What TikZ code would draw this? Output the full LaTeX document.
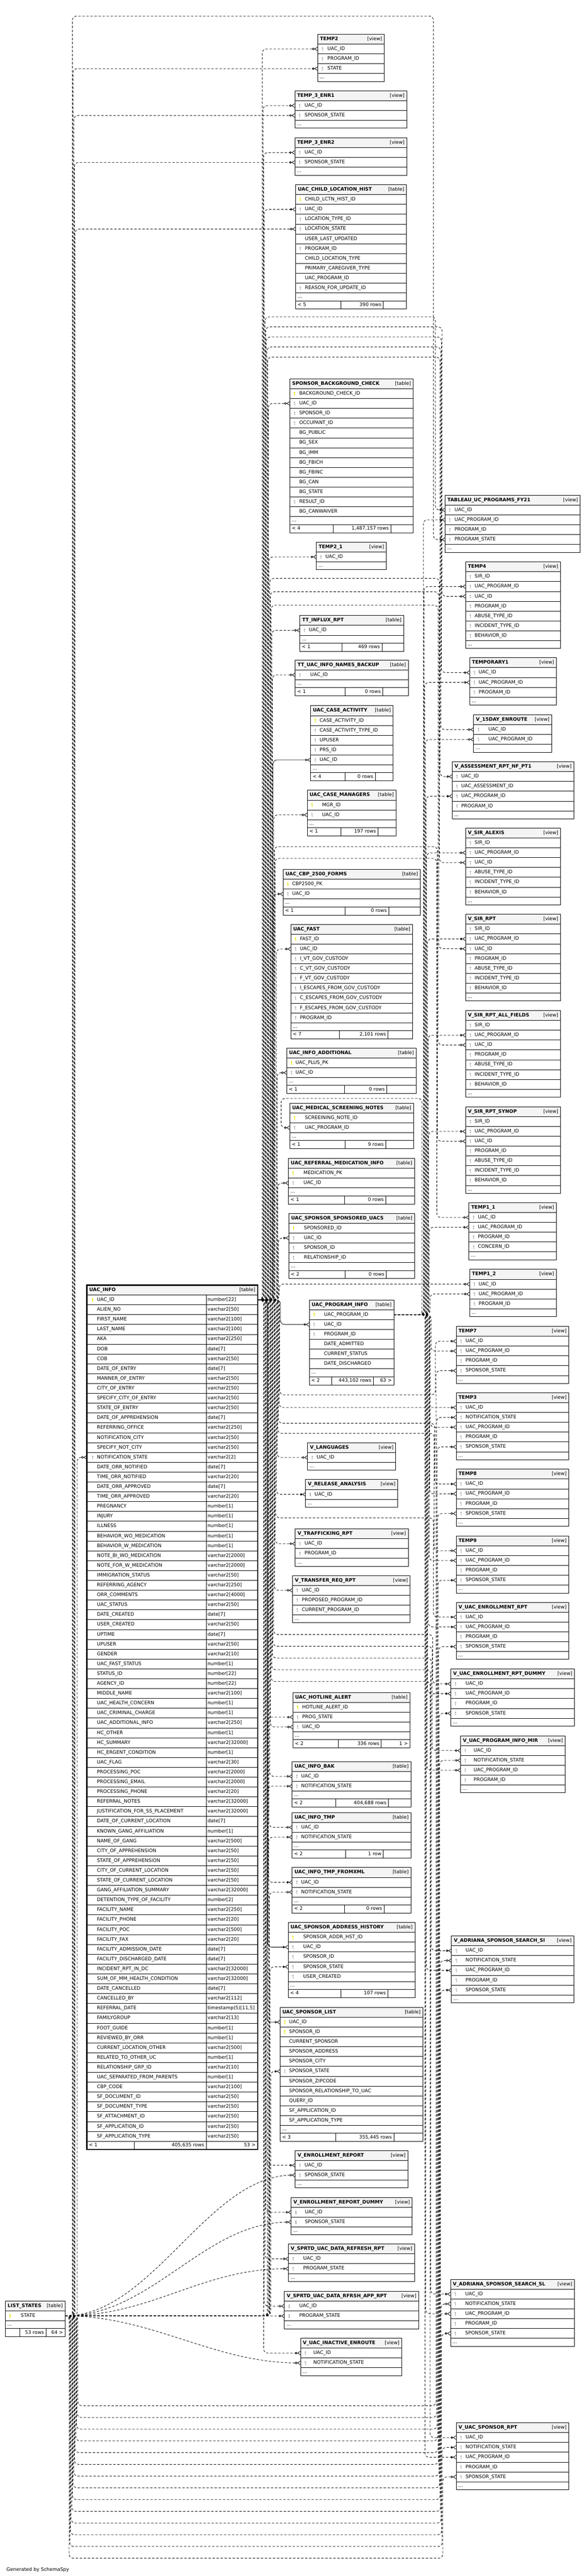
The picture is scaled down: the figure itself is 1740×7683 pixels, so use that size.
\documentclass[tikz,border=0pt]{standalone}
\usepackage{fontspec}
\setmainfont{DejaVu Sans}
\usetikzlibrary{arrows.meta,positioning,fit,calc}

\definecolor{pkcol}{RGB}{228,228,0}
\definecolor{fkcol}{RGB}{178,178,178}
\definecolor{hdrcol}{RGB}{244,244,244}

\pgfdeclarelayer{edges}
\pgfsetlayers{edges,main}

% one box: header, columns and the "..." row
\newcommand{\dbtable}[8]{%
  \pgfmathsetmacro{\dbW}{#5-#4}%
  \node[hdrbox, minimum width=\dbW pt] (#1) at (#4,#6)
    {\makebox[\dbW pt][l]{\hspace*{7pt}\textbf{#2}\hfill[#3]\hspace*{7pt}}};%
  \foreach \kk/\cn [count=\ii] in {#8} {%
    \pgfmathsetmacro{\yy}{#6+29.35*\ii}%
    \node[rowbox, minimum width=\dbW pt] (#1-\cn) at (#4,\yy)
      {\makebox[\dbW pt][l]{\hspace*{#7pt}\cn}};%
    \if p\kk \pic[fill=pkcol] at ([xshift=14pt]#1-\cn.west) {keyglyph};\fi
    \if f\kk \pic[fill=fkcol] at ([xshift=14pt]#1-\cn.west) {keyglyph};\fi
    \xdef\dbN{\ii}%
  }%
  \pgfmathsetmacro{\yy}{#6+29.35*(\dbN+1)}%
  \node[morebox, minimum width=\dbW pt] (#1-more) at (#4,\yy)
    {\makebox[\dbW pt][l]{\hspace*{6pt}...}};%
  \pgfmathsetmacro{\yy}{\yy+23.5}%
  \xdef\dbBot{\yy}\xdef\dbXL{#4}\xdef\dbXR{#5}\xdef\dbID{#1}%
}
% footer line under the last box: two dividers, three texts
\newcommand{\dbfoot}[5]{%
  \pgfmathsetmacro{\fa}{#1-\dbXL}%
  \pgfmathsetmacro{\fb}{#2-#1}%
  \pgfmathsetmacro{\fc}{\dbXR-#2}%
  \pgfmathsetmacro{\fw}{\dbXR-\dbXL}%
  \node[footbox, minimum width=\fw pt] (\dbID-foot) at (\dbXL,\dbBot)
    {\makebox[\fa pt][l]{\hspace*{6pt}#3}\makebox[\fb pt][r]{#4\hspace*{6pt}}\makebox[\fc pt][r]{#5\hspace*{6pt}}};%
  \draw[line width=1.5pt] (#1,\dbBot) -- ++(0,24.5);%
  \draw[line width=1.5pt] (#2,\dbBot) -- ++(0,24.5);%
}

\begin{document}
\catcode`\_=12
\begin{tikzpicture}[
  x=1pt, y=-1pt,
  font=\fontsize{14.3}{17}\selectfont,
  hdrbox/.style={draw, line width=1.5pt, fill=hdrcol, anchor=north west,
    minimum height=29.35pt, inner sep=0pt, outer sep=0pt,
    text height=10.5pt, text depth=3pt},
  rowbox/.style={hdrbox, fill=white},
  morebox/.style={rowbox, minimum height=23.5pt},
  footbox/.style={rowbox, minimum height=24.5pt},
  keyglyph/.pic={
    \fill[pic actions] (0,-3) circle[radius=2.6pt];
    \fill[pic actions] (-0.8,-1) rectangle (0.8,5.5);
    \fill[pic actions] (0.8,3.4) rectangle (2.3,4.6);
  },
  rel/.style={line width=1.3pt, dash pattern=on 7pt off 5pt, rounded corners=12pt,
    -{Circle[open,length=7pt,width=7pt] Straight Barb[reversed,length=8pt,width=11pt]}},
  relfk/.style={rel, solid},
]
\useasboundingbox (0,0) rectangle (1740,7683);

% --- UAC_INFO ---
\node[hdrbox, minimum width=509pt] (ui) at (259,3833)
  {\makebox[509pt][l]{\hspace*{7pt}\textbf{UAC_INFO}\hfill[table]\hspace*{7pt}}};
\foreach \cn/\ty [count=\ii] in {UAC_ID/number[22],ALIEN_NO/varchar2[50],FIRST_NAME/varchar2[100],
  LAST_NAME/varchar2[100],AKA/varchar2[250],DOB/date[7],COB/varchar2[50],DATE_OF_ENTRY/date[7],
  MANNER_OF_ENTRY/varchar2[50],CITY_OF_ENTRY/varchar2[50],SPECIFY_CITY_OF_ENTRY/varchar2[50],
  STATE_OF_ENTRY/varchar2[50],DATE_OF_APPREHENSION/date[7],REFERRING_OFFICE/varchar2[250],
  NOTIFICATION_CITY/varchar2[50],SPECIFY_NOT_CITY/varchar2[50],NOTIFICATION_STATE/varchar2[2],
  DATE_ORR_NOTIFIED/date[7],TIME_ORR_NOTIFIED/varchar2[20],DATE_ORR_APPROVED/date[7],
  TIME_ORR_APPROVED/varchar2[20],PREGNANCY/number[1],INJURY/number[1],ILLNESS/number[1],
  BEHAVIOR_WO_MEDICATION/number[1],BEHAVIOR_W_MEDICATION/number[1],NOTE_BI_WO_MEDICATION/varchar2[2000],
  NOTE_FOR_W_MEDICATION/varchar2[2000],IMMIGRATION_STATUS/varchar2[50],REFERRING_AGENCY/varchar2[250],
  ORR_COMMENTS/varchar2[4000],UAC_STATUS/varchar2[50],DATE_CREATED/date[7],USER_CREATED/varchar2[50],
  UPTIME/date[7],UPUSER/varchar2[50],GENDER/varchar2[10],UAC_FAST_STATUS/number[1],STATUS_ID/number[22],
  AGENCY_ID/number[22],MIDDLE_NAME/varchar2[100],UAC_HEALTH_CONCERN/number[1],UAC_CRIMINAL_CHARGE/number[1],
  UAC_ADDITIONAL_INFO/varchar2[250],HC_OTHER/number[1],HC_SUMMARY/varchar2[32000],HC_ERGENT_CONDITION/number[1],
  UAC_FLAG/varchar2[30],PROCESSING_POC/varchar2[2000],PROCESSING_EMAIL/varchar2[2000],PROCESSING_PHONE/varchar2[20],
  REFERRAL_NOTES/varchar2[32000],JUSTIFICATION_FOR_SS_PLACEMENT/varchar2[32000],DATE_OF_CURRENT_LOCATION/date[7],
  KNOWN_GANG_AFFILIATION/number[1],NAME_OF_GANG/varchar2[500],CITY_OF_APPREHENSION/varchar2[50],
  STATE_OF_APPREHENSION/varchar2[50],CITY_OF_CURRENT_LOCATION/varchar2[50],STATE_OF_CURRENT_LOCATION/varchar2[50],
  GANG_AFFILIATION_SUMMARY/varchar2[32000],DETENTION_TYPE_OF_FACILITY/number[2],FACILITY_NAME/varchar2[250],
  FACILITY_PHONE/varchar2[20],FACILITY_POC/varchar2[500],FACILITY_FAX/varchar2[20],FACILITY_ADMISSION_DATE/date[7],
  FACILITY_DISCHARGED_DATE/date[7],INCIDENT_RPT_IN_DC/varchar2[32000],SUM_OF_MM_HEALTH_CONDITION/varchar2[32000],
  DATE_CANCELLED/date[7],CANCELLED_BY/varchar2[112],REFERRAL_DATE/{timestamp(5)[11,5]},FAMILYGROUP/varchar2[13],
  FOOT_GUIDE/number[1],REVIEWED_BY_ORR/number[1],CURRENT_LOCATION_OTHER/varchar2[500],RELATED_TO_OTHER_UC/number[1],
  RELATIONSHIP_GRP_ID/varchar2[10],UAC_SEPARATED_FROM_PARENTS/number[1],CBP_CODE/varchar2[100],
  SF_DOCUMENT_ID/varchar2[50],SF_DOCUMENT_TYPE/varchar2[50],SF_ATTACHMENT_ID/varchar2[50],
  SF_APPLICATION_ID/varchar2[50],SF_APPLICATION_TYPE/varchar2[50]} {
  \pgfmathsetmacro{\yy}{3833+29.35*\ii}
  \node[rowbox, minimum width=509pt] (ui-\cn) at (259,\yy)
    {\makebox[356pt][l]{\hspace*{30pt}\cn}\makebox[153pt][l]{\hspace*{4pt}\ty}};
}
\pic[fill=pkcol] at ([xshift=17pt]ui-UAC_ID.west) {keyglyph};
\pic[fill=fkcol] at ([xshift=17pt]ui-NOTIFICATION_STATE.west) {keyglyph};
\def\dbBot{6386.45}\def\dbXL{259}\def\dbXR{768}\def\dbID{ui}
\dbfoot{401}{615}{< 1}{405,635 rows}{53 >}
\draw[line width=1.5pt] (615,3862.35) -- (615,6386.45);
\node[fit=(ui)(ui-foot), draw, line width=3.5pt, inner sep=0pt] (ui-frame) {};

% --- LIST_STATES ---
\dbtable{ls}{LIST_STATES}{table}{16}{194}{6863}{46}{p/STATE}
\dbfoot{59}{137}{}{53 rows}{64 >}

% --- middle column ---
\dbtable{t2}{TEMP2}{view}{947}{1146}{102}{29}{f/UAC_ID,f/PROGRAM_ID,f/STATE}
\dbtable{te1}{TEMP_3_ENR1}{view}{879}{1213}{271}{29}{f/UAC_ID,f/SPONSOR_STATE}
\dbtable{te2}{TEMP_3_ENR2}{view}{879}{1213}{411}{29}{f/UAC_ID,f/SPONSOR_STATE}
\dbtable{uclh}{UAC_CHILD_LOCATION_HIST}{table}{881}{1212}{551}{28}{p/CHILD_LCTN_HIST_ID,f/UAC_ID,f/LOCATION_TYPE_ID,f/LOCATION_STATE,n/USER_LAST_UPDATED,f/PROGRAM_ID,n/CHILD_LOCATION_TYPE,n/PRIMARY_CAREGIVER_TYPE,n/UAC_PROGRAM_ID,f/REASON_FOR_UPDATE_ID}
\dbfoot{1016}{1143}{< 5}{390 rows}{}
\dbtable{sbc}{SPONSOR_BACKGROUND_CHECK}{table}{864}{1232}{1130}{28}{p/BACKGROUND_CHECK_ID,f/UAC_ID,f/SPONSOR_ID,f/OCCUPANT_ID,n/BG_PUBLIC,n/BG_SEX,n/BG_IMM,n/BG_FBICH,n/BG_FBINC,n/BG_CAN,n/BG_STATE,f/RESULT_ID,n/BG_CANWAIVER}
\dbfoot{994}{1165}{< 4}{1,487,157 rows}{}
\dbtable{t21}{TEMP2_1}{view}{943}{1152}{1617}{27}{f/UAC_ID}
\dbtable{tir}{TT_INFLUX_RPT}{table}{894}{1204}{1836}{27}{f/UAC_ID}
\dbfoot{1019}{1139}{< 1}{469 rows}{}
\dbtable{tnb}{TT_UAC_INFO_NAMES_BACKUP}{table}{880}{1217}{1969}{45}{f/UAC_ID}
\dbfoot{1028}{1141}{< 1}{0 rows}{}
\dbtable{uca}{UAC_CASE_ACTIVITY}{table}{926}{1172}{2105}{27}{p/CASE_ACTIVITY_ID,f/CASE_ACTIVITY_TYPE_ID,f/UPUSER,f/PRS_ID,f/UAC_ID}
\dbfoot{1028}{1119}{< 4}{0 rows}{}
\dbtable{ucm}{UAC_CASE_MANAGERS}{table}{916}{1181}{2357}{44}{p/MGR_ID,f/UAC_ID}
\dbfoot{1017}{1127}{< 1}{197 rows}{}
\dbtable{ucbp}{UAC_CBP_2500_FORMS}{table}{844}{1253}{2593}{27}{p/CBP2500_PK,f/UAC_ID}
\dbfoot{1028}{1159}{< 1}{0 rows}{}
\dbtable{ufa}{UAC_FAST}{table}{867}{1230}{2757}{27}{p/FAST_ID,f/UAC_ID,f/I_VT_GOV_CUSTODY,f/C_VT_GOV_CUSTODY,f/F_VT_GOV_CUSTODY,f/I_ESCAPES_FROM_GOV_CUSTODY,f/C_ESCAPES_FROM_GOV_CUSTODY,f/F_ESCAPES_FROM_GOV_CUSTODY,f/PROGRAM_ID}
\dbfoot{1012}{1157}{< 7}{2,101 rows}{}
\dbtable{uia}{UAC_INFO_ADDITIONAL}{table}{855}{1241}{3126}{26}{p/UAC_PLUS_PK,f/UAC_ID}
\dbfoot{1027}{1153}{< 1}{0 rows}{}
\dbtable{umsn}{UAC_MEDICAL_SCREENING_NOTES}{table}{864}{1233}{3290}{45}{p/SCREEINING_NOTE_ID,f/UAC_PROGRAM_ID}
\dbfoot{1028}{1150}{< 1}{9 rows}{}
\dbtable{urmi}{UAC_REFERRAL_MEDICATION_INFO}{table}{860}{1236}{3455}{45}{p/MEDICATION_PK,f/UAC_ID}
\dbfoot{1027}{1150}{< 1}{0 rows}{}
\dbtable{ussu}{UAC_SPONSOR_SPONSORED_UACS}{table}{861}{1236}{3619}{45}{p/SPONSORED_ID,f/UAC_ID,f/SPONSOR_ID,f/RELATIONSHIP_ID}
\dbfoot{1028}{1152}{< 2}{0 rows}{}
\dbtable{upi}{UAC_PROGRAM_INFO}{table}{922}{1174}{3877}{44}{p/UAC_PROGRAM_ID,f/UAC_ID,f/PROGRAM_ID,n/DATE_ADMITTED,n/CURRENT_STATUS,n/DATE_DISCHARGED}
\dbfoot{989}{1113}{< 2}{443,102 rows}{63 >}
\dbtable{vla}{V_LANGUAGES}{view}{917}{1180}{4303}{27}{f/UAC_ID}
\dbtable{vra}{V_RELEASE_ANALYSIS}{view}{911}{1186}{4413}{27}{f/UAC_ID}
\dbtable{vtr}{V_TRAFFICKING_RPT}{view}{880}{1217}{4560}{28}{f/UAC_ID,f/PROGRAM_ID}
\dbtable{vtq}{V_TRANSFER_REQ_RPT}{view}{872}{1223}{4699}{28}{f/UAC_ID,f/PROPOSED_PROGRAM_ID,f/CURRENT_PROGRAM_ID}
\dbtable{uha}{UAC_HOTLINE_ALERT}{table}{873}{1222}{5048}{28}{p/HOTLINE_ALERT_ID,f/PROG_STATE,f/UAC_ID}
\dbfoot{1009}{1137}{< 2}{336 rows}{1 >}
\dbtable{uib}{UAC_INFO_BAK}{table}{871}{1225}{5254}{27}{f/UAC_ID,f/NOTIFICATION_STATE}
\dbfoot{1001}{1158}{< 2}{404,688 rows}{}
\dbtable{uit}{UAC_INFO_TMP}{table}{871}{1225}{5406}{27}{f/UAC_ID,f/NOTIFICATION_STATE}
\dbfoot{1030}{1143}{< 2}{1 row}{}
\dbtable{uix}{UAC_INFO_TMP_FROMXML}{table}{871}{1225}{5570}{27}{f/UAC_ID,f/NOTIFICATION_STATE}
\dbfoot{1027}{1145}{< 2}{0 rows}{}
\dbtable{usah}{UAC_SPONSOR_ADDRESS_HISTORY}{table}{859}{1237}{5734}{45}{p/SPONSOR_ADDR_HST_ID,f/UAC_ID,f/SPONSOR_ID,f/SPONSOR_STATE,f/USER_CREATED}
\dbfoot{1016}{1156}{< 4}{107 rows}{}
\dbtable{usl}{UAC_SPONSOR_LIST}{table}{835}{1261}{5987}{27}{p/UAC_ID,p/SPONSOR_ID,n/CURRENT_SPONSOR,n/SPONSOR_ADDRESS,n/SPONSOR_CITY,f/SPONSOR_STATE,n/SPONSOR_ZIPCODE,n/SPONSOR_RELATIONSHIP_TO_UAC,n/QUERY_ID,n/SF_APPLICATION_ID,n/SF_APPLICATION_TYPE}
\dbfoot{1001}{1174}{< 3}{355,445 rows}{}
\dbtable{ver}{V_ENROLLMENT_REPORT}{view}{880}{1216}{6414}{28}{f/UAC_ID,f/SPONSOR_STATE}
\dbtable{verd}{V_ENROLLMENT_REPORT_DUMMY}{view}{868}{1229}{6554}{41}{f/UAC_ID,f/SPONSOR_STATE}
\dbtable{vsr}{V_SPRTD_UAC_DATA_REFRESH_RPT}{view}{860}{1236}{6693}{44}{f/UAC_ID,f/PROGRAM_STATE}
\dbtable{vsa}{V_SPRTD_UAC_DATA_RFRSH_APP_RPT}{view}{848}{1248}{6834}{44}{f/UAC_ID,f/PROGRAM_STATE}
\dbtable{vie}{V_UAC_INACTIVE_ENROUTE}{view}{896}{1198}{6974}{38}{f/UAC_ID,f/NOTIFICATION_STATE}

% --- right column ---
\dbtable{tab}{TABLEAU_UC_PROGRAMS_FY21}{view}{1327}{1730}{1477}{28}{f/UAC_ID,f/UAC_PROGRAM_ID,f/PROGRAM_ID,f/PROGRAM_STATE}
\dbtable{t4}{TEMP4}{view}{1388}{1671}{1676}{27}{f/SIR_ID,f/UAC_PROGRAM_ID,f/UAC_ID,f/PROGRAM_ID,f/ABUSE_TYPE_ID,f/INCIDENT_TYPE_ID,f/BEHAVIOR_ID}
\dbtable{tmp1}{TEMPORARY1}{view}{1400}{1659}{1962}{27}{f/UAC_ID,f/UAC_PROGRAM_ID,f/PROGRAM_ID}
\dbtable{v15}{V_15DAY_ENROUTE}{view}{1412}{1645}{2132}{44}{f/UAC_ID,f/UAC_PROGRAM_ID}
\dbtable{vas}{V_ASSESSMENT_RPT_NF_PT1}{view}{1348}{1711}{2272}{27}{f/UAC_ID,f/UAC_ASSESSMENT_ID,f/UAC_PROGRAM_ID,f/PROGRAM_ID}
\dbtable{vsal}{V_SIR_ALEXIS}{view}{1388}{1671}{2470}{27}{f/SIR_ID,f/UAC_PROGRAM_ID,f/UAC_ID,f/ABUSE_TYPE_ID,f/INCIDENT_TYPE_ID,f/BEHAVIOR_ID}
\dbtable{vsir}{V_SIR_RPT}{view}{1388}{1671}{2727}{27}{f/SIR_ID,f/UAC_PROGRAM_ID,f/UAC_ID,f/PROGRAM_ID,f/ABUSE_TYPE_ID,f/INCIDENT_TYPE_ID,f/BEHAVIOR_ID}
\dbtable{vsaf}{V_SIR_RPT_ALL_FIELDS}{view}{1388}{1671}{3014}{27}{f/SIR_ID,f/UAC_PROGRAM_ID,f/UAC_ID,f/PROGRAM_ID,f/ABUSE_TYPE_ID,f/INCIDENT_TYPE_ID,f/BEHAVIOR_ID}
\dbtable{vsyn}{V_SIR_RPT_SYNOP}{view}{1388}{1671}{3301}{27}{f/SIR_ID,f/UAC_PROGRAM_ID,f/UAC_ID,f/PROGRAM_ID,f/ABUSE_TYPE_ID,f/INCIDENT_TYPE_ID,f/BEHAVIOR_ID}
\dbtable{t11}{TEMP1_1}{view}{1398}{1659}{3587}{27}{f/UAC_ID,f/UAC_PROGRAM_ID,f/PROGRAM_ID,f/CONCERN_ID}
\dbtable{t12}{TEMP1_2}{view}{1400}{1659}{3786}{27}{f/UAC_ID,f/UAC_PROGRAM_ID,f/PROGRAM_ID}
\dbtable{t7}{TEMP7}{view}{1360}{1696}{3956}{28}{f/UAC_ID,f/UAC_PROGRAM_ID,f/PROGRAM_ID,f/SPONSOR_STATE}
\dbtable{t3}{TEMP3}{view}{1360}{1696}{4154}{28}{f/UAC_ID,f/NOTIFICATION_STATE,f/UAC_PROGRAM_ID,f/PROGRAM_ID,f/SPONSOR_STATE}
\dbtable{t8}{TEMP8}{view}{1360}{1696}{4382}{28}{f/UAC_ID,f/UAC_PROGRAM_ID,f/PROGRAM_ID,f/SPONSOR_STATE}
\dbtable{t9}{TEMP9}{view}{1360}{1696}{4581}{28}{f/UAC_ID,f/UAC_PROGRAM_ID,f/PROGRAM_ID,f/SPONSOR_STATE}
\dbtable{vuer}{V_UAC_ENROLLMENT_RPT}{view}{1360}{1696}{4779}{28}{f/UAC_ID,f/UAC_PROGRAM_ID,f/PROGRAM_ID,f/SPONSOR_STATE}
\dbtable{vuerd}{V_UAC_ENROLLMENT_RPT_DUMMY}{view}{1344}{1713}{4978}{44}{f/UAC_ID,f/UAC_PROGRAM_ID,f/PROGRAM_ID,f/SPONSOR_STATE}
\dbtable{vmir}{V_UAC_PROGRAM_INFO_MIR}{view}{1373}{1685}{5177}{39}{f/UAC_ID,f/NOTIFICATION_STATE,f/UAC_PROGRAM_ID,f/PROGRAM_ID}
\dbtable{vsi}{V_ADRIANA_SPONSOR_SEARCH_SI}{view}{1346}{1711}{5774}{42}{f/UAC_ID,f/NOTIFICATION_STATE,f/UAC_PROGRAM_ID,f/PROGRAM_ID,f/SPONSOR_STATE}
\dbtable{vsl}{V_ADRIANA_SPONSOR_SEARCH_SL}{view}{1343}{1713}{6798}{44}{f/UAC_ID,f/NOTIFICATION_STATE,f/UAC_PROGRAM_ID,f/PROGRAM_ID,f/SPONSOR_STATE}
\dbtable{vusr}{V_UAC_SPONSOR_RPT}{view}{1360}{1696}{7226}{28}{f/UAC_ID,f/NOTIFICATION_STATE,f/UAC_PROGRAM_ID,f/PROGRAM_ID,f/SPONSOR_STATE}

\node[anchor=west] (gen) at (16,7664) {Generated by SchemaSpy};

% --- relationships ---
\begin{pgfonlayer}{edges}
% UAC_INFO.UAC_ID
\foreach \tb/\kk in {t2/782,te1/784,te2/786,uclh/788,sbc/800,t21/802,tir/810,tnb/812,ucm/816,ucbp/815,
  ufa/824,uia/826,urmi/828,ussu/830,t12/832,t3/832,vla/826,vra/824,vtr/820,vtq/818,uha/806,uib/804,
  uit/802,uix/800,ver/794,verd/792,vsr/790,vsa/788,vie/786}
  \draw[rel] (ui-UAC_ID.east) -- ++(\kk-768,0) |- (\tb-UAC_ID.west);
\foreach \tb/\kk in {uca/814,upi/836,usah/798,usl/796}
  \draw[relfk] (ui-UAC_ID.east) -- ++(\kk-768,0) |- (\tb-UAC_ID.west);
\foreach \tb/\kk/\gy/\bx in {tab/790/945/1298,t4/792/975/1318,tmp1/794/1005/1316,v15/796/1035/1314,
  vas/798/1065/1312,vsal/804/1725/1310,vsir/806/1765/1308,vsaf/808/1805/1306,vsyn/818/2525/1304,
  t11/820/2560/1302,t7/834/4160/1298,t8/830/4245/1296,t9/828/4275/1294,vuer/822/4527/1292,
  vuerd/816/4875/1290,vmir/814/4910/1288,vsi/812/4945/1286,vsl/810/4980/1284,vusr/808/5015/1282}
  \draw[rel] (ui-UAC_ID.east) -- ++(\kk-768,0) -- (\kk,\gy) -- (\bx,\gy) |- (\tb-UAC_ID.west);
% UAC_PROGRAM_INFO.UAC_PROGRAM_ID
\foreach \tb/\bx in {tab/1262,t4/1264,tmp1/1266,v15/1268,vas/1270,vsal/1272,vsir/1274,vsaf/1276,
  vsyn/1278,t11/1280,t12/1282,t7/1285,t3/1283,t8/1281,t9/1279,vuer/1277,vuerd/1275,vmir/1273,
  vsi/1271,vsl/1269,vusr/1267}
  \draw[rel] (upi-UAC_PROGRAM_ID.east) -- ++(\bx-1174,0) |- (\tb-UAC_PROGRAM_ID.west);
\draw[rel] (upi-UAC_PROGRAM_ID.east) -- ++(84,0) -- (1258,3276) -- (838,3276) |- (umsn-UAC_PROGRAM_ID.west);
% LIST_STATES.STATE
\foreach \tb/\cn/\kk in {t2/STATE/218,te1/SPONSOR_STATE/220,te2/SPONSOR_STATE/222,
  uclh/LOCATION_STATE/224,ui/NOTIFICATION_STATE/230,uha/PROG_STATE/797,uib/NOTIFICATION_STATE/799,
  uit/NOTIFICATION_STATE/801,uix/NOTIFICATION_STATE/803,usah/SPONSOR_STATE/805,usl/SPONSOR_STATE/807}
  \draw[rel] (ls-STATE.east) -- ++(\kk-194,0) |- (\tb-\cn.west);
\draw[rel] (ls-STATE.east) -- ++(22,0) -- (216,48) -- (1292,48) |- (tab-PROGRAM_STATE.west);
\foreach \tb/\cn in {ver/SPONSOR_STATE,verd/SPONSOR_STATE,vsr/PROGRAM_STATE,vsa/PROGRAM_STATE,
  vie/NOTIFICATION_STATE}
  \draw[rel] (ls-STATE.east) .. controls +(260,0) and +(-260,0) .. (\tb-\cn.west);
\foreach \tb/\cn/\kk/\yb/\bx in {t7/SPONSOR_STATE/232/7175/1300,t3/NOTIFICATION_STATE/230/7210/1301.5,
  t3/SPONSOR_STATE/228/7245/1303,t8/SPONSOR_STATE/226/7280/1304.5,t9/SPONSOR_STATE/224/7315/1306,
  vuer/SPONSOR_STATE/222/7350/1307.5,vuerd/SPONSOR_STATE/220/7385/1309,
  vmir/NOTIFICATION_STATE/218/7420/1310.5,vsi/NOTIFICATION_STATE/216/7455/1312,
  vsi/SPONSOR_STATE/214/7490/1313.5,vsl/NOTIFICATION_STATE/212/7525/1315,
  vsl/SPONSOR_STATE/210/7560/1316.5,vusr/NOTIFICATION_STATE/208/7595/1318,
  vusr/SPONSOR_STATE/206/7630/1320}
  \draw[rel] (ls-STATE.east) -- ++(\kk-194,0) -- (\kk,\yb) -- (\bx,\yb) |- (\tb-\cn.west);
\end{pgfonlayer}
\end{tikzpicture}
\end{document}
